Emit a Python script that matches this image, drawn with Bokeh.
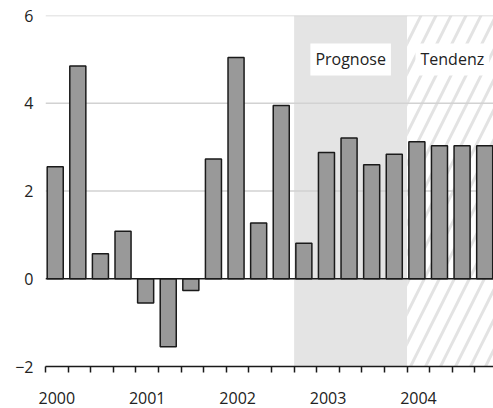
from bokeh.plotting import figure
from bokeh.models import Range1d, FixedTicker, Span, Label
from bokeh.embed import file_html
from bokeh.resources import INLINE

# Data: quarterly values 2000 Q1 .. 2004 Q4
years = ["2000", "2001", "2002", "2003", "2004"]
values = [2.55, 4.85, 0.57, 1.08, -0.55, -1.55, -0.27, 2.73,
          5.04, 1.27, 3.95, 0.81, 2.88, 3.21, 2.60, 2.84,
          3.12, 3.03, 3.03, 3.03]
prognose_span = [11, 16]   # quarter index range
tendenz_span = [16, 20]
y_ticks = [-2, 0, 2, 4, 6]
grid_levels = [2, 4, 6]

FONT = "Open Sans"
TXT = "#222222"

n = len(values)
p = figure(width=493, height=408, output_backend="svg", toolbar_location=None,
           x_range=Range1d(0, 19.82), y_range=Range1d(-2, 6),
           min_border_left=45, min_border_right=0, min_border_top=15,
           min_border_bottom=42)
p.outline_line_color = None
p.xgrid.visible = False
p.ygrid.visible = False
p.background_fill_color = "white"

# shaded forecast region
p.quad(left=[prognose_span[0]], right=[prognose_span[1]], bottom=[-2], top=[6],
       fill_color="#e4e4e4", line_color=None)
# hatched trend region
p.quad(left=[tendenz_span[0]], right=[tendenz_span[1] + 1], bottom=[-2], top=[6],
       fill_color="white", line_color=None, hatch_pattern="/",
       hatch_color="#e3e3e3", hatch_weight=3, hatch_scale=30)

for g in grid_levels:
    p.line(x=[0, n + 1], y=[g, g], line_color="#d2d2d2", line_width=1.5)

xs = [i + 0.43 for i in range(n)]
p.vbar(x=xs, top=values, bottom=0, width=0.71, fill_color="#999999",
       line_color="#1a1a1a", line_width=1.5)

p.add_layout(Span(location=0, dimension="width", line_color="#1a1a1a", line_width=1.5))

for txt, xc in [("Prognose", sum(prognose_span) / 2), ("Tendenz", 18)]:
    p.add_layout(Label(x=xc, y=5, text=txt, text_align="center", text_baseline="middle",
                       text_font=FONT, text_font_size="16px", text_color=TXT,
                       background_fill_color="white", padding=5))

# x axis
label_pos = [4 * k + 0.5 for k in range(len(years))]
p.xaxis.ticker = FixedTicker(ticks=label_pos, minor_ticks=list(range(n + 1)))
p.xaxis.major_label_overrides = {pos: y for pos, y in zip(label_pos, years)}
p.xaxis.major_tick_out = 0
p.xaxis.major_tick_in = 0
p.xaxis.minor_tick_out = 6
p.xaxis.minor_tick_in = 0
p.xaxis.minor_tick_line_color = "#1a1a1a"
p.xaxis.minor_tick_line_width = 1.5
p.xaxis.axis_line_color = "#1a1a1a"
p.xaxis.axis_line_width = 1.5
p.xaxis.major_label_standoff = 19
p.xaxis.major_label_text_font = FONT
p.xaxis.major_label_text_font_size = "16px"
p.xaxis.major_label_text_color = TXT

# y axis
p.yaxis.ticker = FixedTicker(ticks=y_ticks)
p.yaxis.major_label_overrides = {t: (str(t) if t >= 0 else "\u2212" + str(-t)) for t in y_ticks}
p.yaxis.axis_line_color = None
p.yaxis.major_tick_line_color = None
p.yaxis.minor_tick_line_color = None
p.yaxis.major_tick_out = 0
p.yaxis.major_tick_in = 0
p.yaxis.major_label_standoff = 12
p.yaxis.major_label_text_font = FONT
p.yaxis.major_label_text_font_size = "16px"
p.yaxis.major_label_text_color = TXT

open("out.html", "w").write(file_html(p, INLINE))
